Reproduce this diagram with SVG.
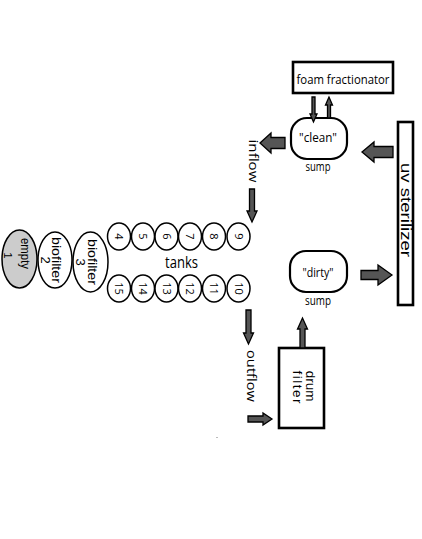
<svg xmlns="http://www.w3.org/2000/svg" width="422" height="539" viewBox="0 0 422 539">
<style>
.box{fill:#fff;stroke:#000;stroke-width:2.6}
.ell{fill:#fff;stroke:#000;stroke-width:1.5}
.arr{fill:#555;stroke:#000;stroke-width:1.3;stroke-linejoin:miter}
.seg{font-family:"Open Sans","Liberation Sans",sans-serif;fill:#000}
.ari{font-family:"Liberation Sans",Arial,sans-serif;fill:#000}
.num{font-family:"Open Sans","Liberation Sans",sans-serif;font-size:11px;text-anchor:middle;fill:#000}
</style>
<rect width="422" height="539" fill="#fff"/>

<g id="empty1">
<ellipse cx="19.5" cy="259" rx="17.5" ry="29" fill="#cccccc" stroke="#000" stroke-width="1.5"/>
<g transform="translate(19.5,259) rotate(90)">
<text class="ari" font-size="12" text-anchor="middle" x="-5.5" y="-1" textLength="31" lengthAdjust="spacingAndGlyphs">empty</text>
<text class="ari" font-size="11.5" text-anchor="middle" x="-3.5" y="16">1</text>
</g>
</g>

<g id="biofilter2">
<ellipse class="ell" cx="55" cy="260" rx="17" ry="28"/>
<g transform="translate(55,260) rotate(90)">
<text class="ari" font-size="13" text-anchor="middle" x="0" y="3" textLength="46" lengthAdjust="spacingAndGlyphs">biofilter</text>
<text class="ari" font-size="13" text-anchor="middle" x="0" y="14">2</text>
</g>
</g>

<g id="biofilter3">
<ellipse class="ell" cx="90.5" cy="262" rx="17.5" ry="30"/>
<g transform="translate(90.5,262) rotate(90)">
<text class="ari" font-size="13" text-anchor="middle" x="0" y="3" textLength="46" lengthAdjust="spacingAndGlyphs">biofilter</text>
<text class="ari" font-size="13" text-anchor="middle" x="0" y="15">3</text>
</g>
</g>

<g id="tanks">
<ellipse class="ell" cx="119" cy="236.5" rx="11.5" ry="13.5"/>
<ellipse class="ell" cx="143" cy="236.5" rx="11.5" ry="13.5"/>
<ellipse class="ell" cx="166.5" cy="236.5" rx="11.5" ry="13.5"/>
<ellipse class="ell" cx="190" cy="236.5" rx="11.5" ry="13.5"/>
<ellipse class="ell" cx="214" cy="236.5" rx="11.5" ry="13.5"/>
<ellipse class="ell" cx="238.5" cy="236.5" rx="11.5" ry="13.5"/>
<ellipse class="ell" cx="119" cy="288.5" rx="11.5" ry="13.5"/>
<ellipse class="ell" cx="143" cy="288.5" rx="11.5" ry="13.5"/>
<ellipse class="ell" cx="166.5" cy="288.5" rx="11.5" ry="13.5"/>
<ellipse class="ell" cx="190" cy="288.5" rx="11.5" ry="13.5"/>
<ellipse class="ell" cx="214" cy="288.5" rx="11.5" ry="13.5"/>
<ellipse class="ell" cx="238.5" cy="288.5" rx="11.5" ry="13.5"/>
<text class="num" transform="translate(119,236.5) rotate(90)" y="4">4</text>
<text class="num" transform="translate(143,236.5) rotate(90)" y="4">5</text>
<text class="num" transform="translate(166.5,236.5) rotate(90)" y="4">6</text>
<text class="num" transform="translate(190,236.5) rotate(90)" y="4">7</text>
<text class="num" transform="translate(214,236.5) rotate(90)" y="4">8</text>
<text class="num" transform="translate(238.5,236.5) rotate(90)" y="4">9</text>
<text class="num" transform="translate(119,288.5) rotate(90)" y="4">15</text>
<text class="num" transform="translate(143,288.5) rotate(90)" y="4">14</text>
<text class="num" transform="translate(166.5,288.5) rotate(90)" y="4">13</text>
<text class="num" transform="translate(190,288.5) rotate(90)" y="4">12</text>
<text class="num" transform="translate(214,288.5) rotate(90)" y="4">11</text>
<text class="num" transform="translate(238.5,288.5) rotate(90)" y="4">10</text>
<text class="seg" x="181.5" y="268" font-size="17" text-anchor="middle" textLength="33" lengthAdjust="spacingAndGlyphs">tanks</text>
</g>

<g id="foam">
<rect class="box" x="293" y="62" width="100" height="31"/>
<text class="seg" x="343" y="84" font-size="13.5" text-anchor="middle" textLength="93" lengthAdjust="spacingAndGlyphs">foam fractionator</text>
</g>

<g id="clean">
<rect x="291" y="118" width="56" height="41" rx="16" ry="16" fill="#fff" stroke="#000" stroke-width="2.2"/>
<text class="seg" x="318" y="142" font-size="12.5" text-anchor="middle" textLength="38" lengthAdjust="spacingAndGlyphs">"clean"</text>
<text class="seg" x="318" y="171" font-size="12" text-anchor="middle" textLength="25" lengthAdjust="spacingAndGlyphs">sump</text>
</g>

<g id="dirty">
<rect x="290" y="251" width="57" height="41" rx="16" ry="16" fill="#fff" stroke="#000" stroke-width="2.2"/>
<text class="seg" x="318" y="277" font-size="12.5" text-anchor="middle" textLength="31" lengthAdjust="spacingAndGlyphs">"dirty"</text>
<text class="seg" x="318" y="305" font-size="12" text-anchor="middle" textLength="26" lengthAdjust="spacingAndGlyphs">sump</text>
</g>

<g id="uv">
<rect class="box" x="398" y="122" width="15" height="183"/>
<text class="ari" transform="translate(405.5,210) rotate(90)" x="0" y="5" font-size="15" text-anchor="middle" textLength="94" lengthAdjust="spacingAndGlyphs">uv sterilizer</text>
</g>

<g id="drum">
<rect class="box" x="279" y="348" width="45" height="80"/>
<g transform="translate(301.5,387) rotate(90)">
<text class="ari" x="-1" y="-4" font-size="13.5" text-anchor="middle">drum</text>
<text class="ari" x="0" y="9" font-size="13.5" text-anchor="middle" textLength="33" lengthAdjust="spacing">filter</text>
</g>
</g>

<g id="labels">
<text class="seg" transform="translate(253,161) rotate(90)" x="0" y="4" font-size="13" text-anchor="middle" textLength="43" lengthAdjust="spacingAndGlyphs">inflow</text>
<text class="seg" transform="translate(251,376) rotate(90)" x="0" y="4" font-size="13" text-anchor="middle" textLength="52" lengthAdjust="spacingAndGlyphs">outflow</text>
</g>

<g id="connectors">
<path class="arr" d="M260,143 L271,133 L271,137.5 L285,137.5 L285,148.5 L271,148.5 L271,153 Z"/>
<path class="arr" d="M362,152 L374,142 L374,146.5 L393,146.5 L393,157.5 L374,157.5 L374,162 Z"/>
<path class="arr" d="M392,275 L378,265 L378,270.5 L361,270.5 L361,279.5 L378,279.5 L378,285 Z"/>
<path class="arr" d="M252,222 L247,211 L249.5,211 L249.5,189 L254.5,189 L254.5,211 L257,211 Z"/>
<path class="arr" d="M248.5,344 L243.5,333 L246,333 L246,310 L251,310 L251,333 L253.5,333 Z"/>
<path class="arr" d="M302.5,318 L297.5,329 L300,329 L300,348 L305,348 L305,329 L307.5,329 Z"/>
<path class="arr" d="M272,419 L263,413 L263,416 L248,416 L248,422 L263,422 L263,425 Z"/>
<path class="arr" d="M313.5,122 L310,114 L312,114 L312,97 L315,97 L315,114 L317,114 Z"/>
<path class="arr" d="M329,97 L325.5,105 L327.5,105 L327.5,118 L330.5,118 L330.5,105 L332.5,105 Z"/>
</g>
<rect x="216" y="437" width="2" height="1" fill="#bbb"/>
</svg>
